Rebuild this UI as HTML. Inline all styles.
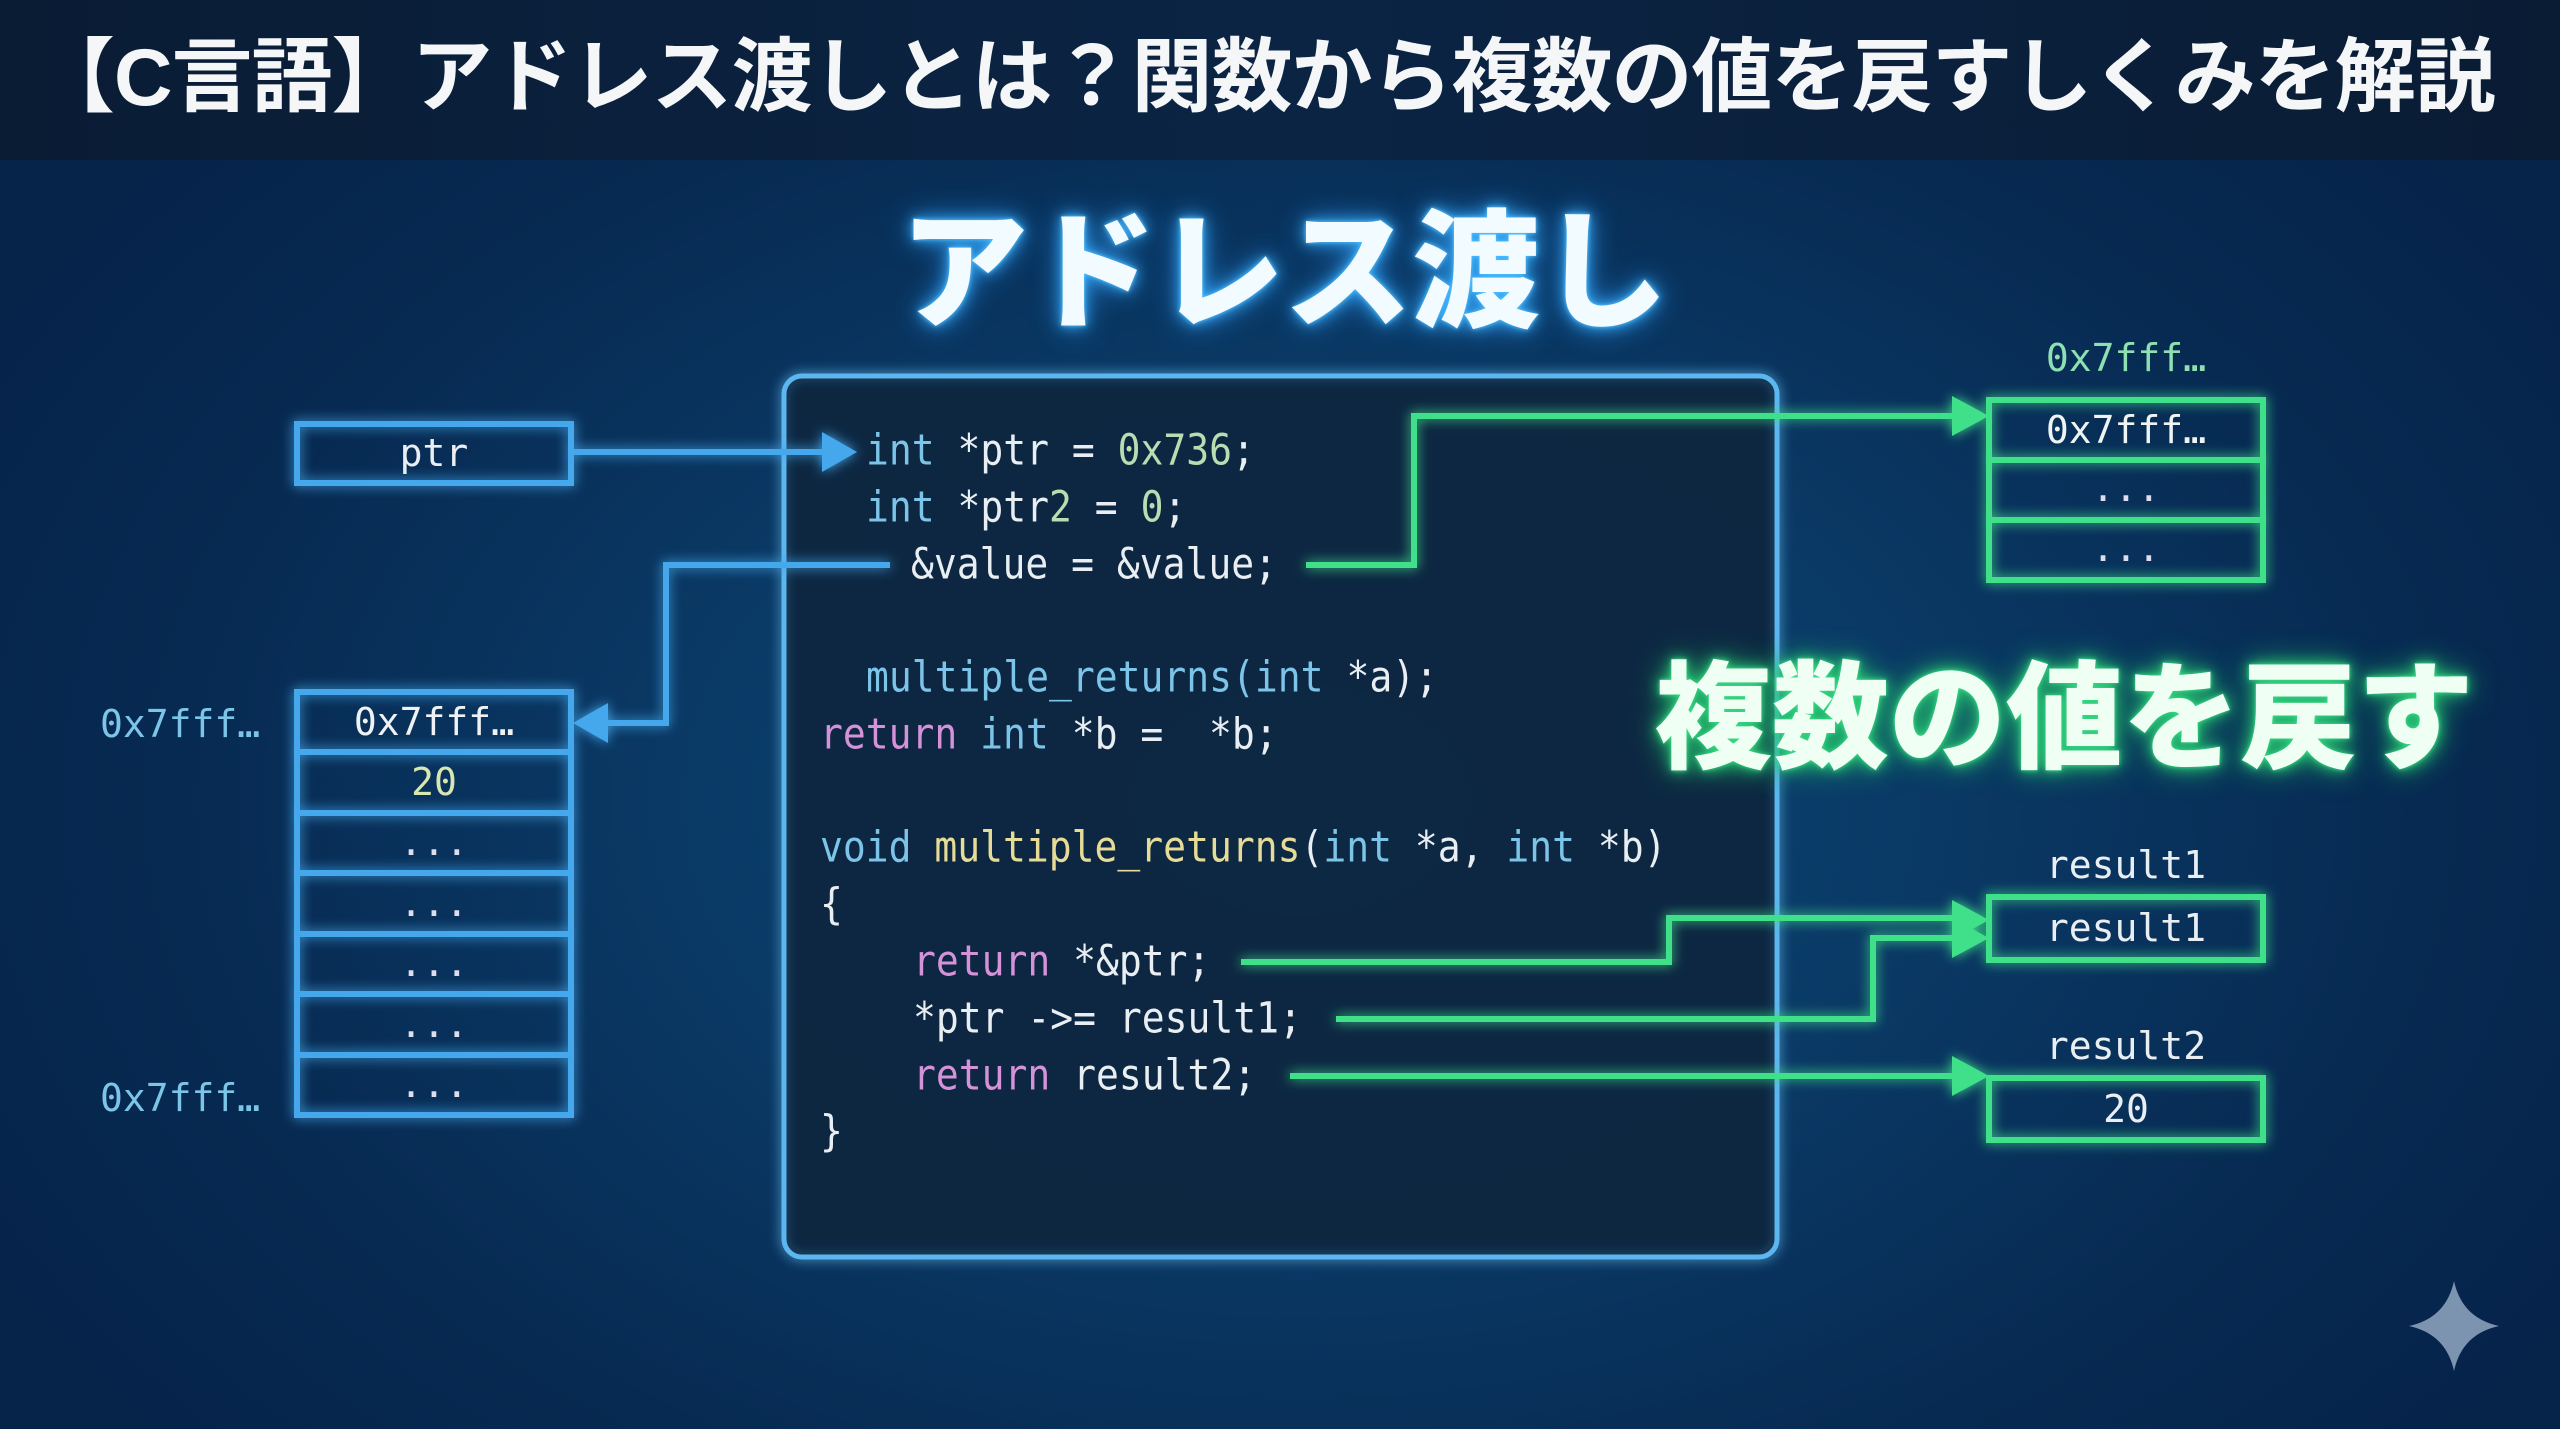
<!DOCTYPE html>
<html><head><meta charset="utf-8">
<style>
html,body{margin:0;padding:0}
body{width:2560px;height:1429px;overflow:hidden;position:relative;
background:radial-gradient(ellipse 1500px 1000px at 1300px 800px,#0d4a7a 0%,#0a3a66 40%,#072a52 75%,#06234a 100%);
font-family:"Liberation Sans","Noto Sans CJK JP",sans-serif;}
.bar{position:absolute;left:0;top:0;width:2560px;height:160px;background:linear-gradient(90deg,#0a1c34,#0b2444 50%,#0a1c34);}
.title{position:absolute;left:34px;top:28px;width:2520px;font-size:81px;font-weight:bold;color:#f4f6f8;white-space:nowrap;line-height:100px;letter-spacing:-1px}
.big{position:absolute;font-weight:900;white-space:nowrap;line-height:1}
.mono{font-family:"DejaVu Sans Mono","Liberation Mono",monospace;}
.code{position:absolute;font-size:38px;white-space:pre;color:#e8eef2;line-height:44px;transform:scaleY(1.12);transform-origin:0 50%}
.k{color:#7cc4e8}.n{color:#b9dcb0}.r{color:#d592d9}.f{color:#e6dc98}
.lbl{position:absolute;font-size:38px;white-space:pre;line-height:44px}
</style></head><body>
<div class="bar"></div>
<div class="title">【C言語】アドレス渡しとは？関数から複数の値を戻すしくみを解説</div>

<svg width="2560" height="1429" style="position:absolute;left:0;top:0">
<defs>
<filter id="gb" x="-20%" y="-20%" width="140%" height="140%"><feGaussianBlur stdDeviation="6" result="b"/><feMerge><feMergeNode in="b"/><feMergeNode in="SourceGraphic"/></feMerge></filter>
</defs>
<rect x="784" y="376" width="993" height="881" rx="18" fill="#0b2440" fill-opacity="0.85" stroke="#5bb6f0" stroke-width="5" filter="url(#gb)"/>
<g filter="url(#gb)" fill="none" stroke-width="6">
<g stroke="#45a8ec">
<rect x="297" y="424" width="274" height="59"/>
<rect x="297" y="692" width="274" height="423"/>
<line x1="297" y1="752" x2="571" y2="752"/><line x1="297" y1="813" x2="571" y2="813"/>
<line x1="297" y1="873" x2="571" y2="873"/><line x1="297" y1="934" x2="571" y2="934"/>
<line x1="297" y1="994" x2="571" y2="994"/><line x1="297" y1="1055" x2="571" y2="1055"/>
<polyline points="571,452 830,452"/>
<polyline points="890,565 666,565 666,723 600,723"/>
</g>
<g stroke="#3fe08a">
<rect x="1989" y="400" width="274" height="180"/>
<line x1="1989" y1="460" x2="2263" y2="460"/><line x1="1989" y1="520" x2="2263" y2="520"/>
<rect x="1989" y="897" width="274" height="63"/>
<rect x="1989" y="1078" width="274" height="62"/>
<polyline points="1306,565 1414,565 1414,416 1955,416"/>
<polyline points="1241,962 1669,962 1669,918 1955,918"/>
<polyline points="1336,1019 1873,1019 1873,938 1955,938"/>
<polyline points="1290,1076 1955,1076"/>
</g>
</g>
<g filter="url(#gb)">
<polygon points="857,452 822,432 822,472" fill="#45a8ec"/>
<polygon points="573,723 608,703 608,743" fill="#45a8ec"/>
<polygon points="1989,416 1952,396 1952,436" fill="#3fe08a"/>
<polygon points="1989,920 1952,900 1952,940" fill="#3fe08a"/>
<polygon points="1989,938 1952,918 1952,958" fill="#3fe08a"/>
<polygon points="1989,1076 1952,1056 1952,1096" fill="#3fe08a"/>
</g>
<path d="M2454 1281 Q2462 1318 2499 1326 Q2462 1334 2454 1371 Q2446 1334 2409 1326 Q2446 1318 2454 1281Z" fill="#9ab0c8" opacity="0.8"/>
</svg>

<div class="big" style="left:900px;top:210px;font-size:128px;color:#f2fbff;text-shadow:0 0 4px #5ec8ff,0 0 14px #3ab0ff,0 0 30px #2a90e8;">アドレス渡し</div>
<div class="big" style="left:1655px;top:660px;font-size:117px;color:#effff4;text-shadow:0 0 4px #3fe08a,0 0 14px #2fd07a,0 0 30px #20b868;">複数の値を戻す</div>

<div class="mono">
<div class="code" style="left:866px;top:428px"><span class="k">int</span> *ptr = <span class="n">0x736</span>;</div>
<div class="code" style="left:866px;top:485px"><span class="k">int</span> *ptr<span class="n">2</span> = <span class="n">0</span>;</div>
<div class="code" style="left:911px;top:542px">&amp;value = &amp;value;</div>
<div class="code" style="left:866px;top:655px"><span class="k">multiple_returns(int</span> *a);</div>
<div class="code" style="left:820px;top:712px"><span class="r">return</span> <span class="k">int</span> *b =  *b;</div>
<div class="code" style="left:820px;top:825px"><span class="k">void</span> <span class="f">multiple_returns</span>(<span class="k">int</span> *a, <span class="k">int</span> *b)</div>
<div class="code" style="left:820px;top:882px">{</div>
<div class="code" style="left:913px;top:939px"><span class="r">return</span> *&amp;ptr;</div>
<div class="code" style="left:913px;top:996px">*ptr -&gt;= result1;</div>
<div class="code" style="left:913px;top:1053px"><span class="r">return</span> result2;</div>
<div class="code" style="left:820px;top:1109px">}</div>

<div class="lbl" style="left:297px;width:274px;text-align:center;top:431px;color:#e8eef2">ptr</div>
<div class="lbl" style="left:297px;width:274px;text-align:center;top:700px;color:#eef2f4">0x7fff…</div>
<div class="lbl" style="left:297px;width:274px;text-align:center;top:760px;color:#d8e6b0">20</div>
<div class="lbl" style="left:297px;width:274px;text-align:center;top:820px;color:#dde">...</div>
<div class="lbl" style="left:297px;width:274px;text-align:center;top:881px;color:#dde">...</div>
<div class="lbl" style="left:297px;width:274px;text-align:center;top:941px;color:#dde">...</div>
<div class="lbl" style="left:297px;width:274px;text-align:center;top:1002px;color:#dde">...</div>
<div class="lbl" style="left:297px;width:274px;text-align:center;top:1062px;color:#dde">...</div>
<div class="lbl" style="left:100px;top:702px;color:#7cc4e8">0x7fff…</div>
<div class="lbl" style="left:100px;top:1076px;color:#7cc4e8">0x7fff…</div>

<div class="lbl" style="left:1989px;width:274px;text-align:center;top:336px;color:#8fe0b0">0x7fff…</div>
<div class="lbl" style="left:1989px;width:274px;text-align:center;top:408px;color:#eef4f2">0x7fff…</div>
<div class="lbl" style="left:1989px;width:274px;text-align:center;top:466px;color:#dde">...</div>
<div class="lbl" style="left:1989px;width:274px;text-align:center;top:526px;color:#dde">...</div>
<div class="lbl" style="left:1989px;width:274px;text-align:center;top:843px;color:#e8eef2">result1</div>
<div class="lbl" style="left:1989px;width:274px;text-align:center;top:906px;color:#e8eef2">result1</div>
<div class="lbl" style="left:1989px;width:274px;text-align:center;top:1024px;color:#e8eef2">result2</div>
<div class="lbl" style="left:1989px;width:274px;text-align:center;top:1087px;color:#e8eef2">20</div>
</div>
</body></html>
